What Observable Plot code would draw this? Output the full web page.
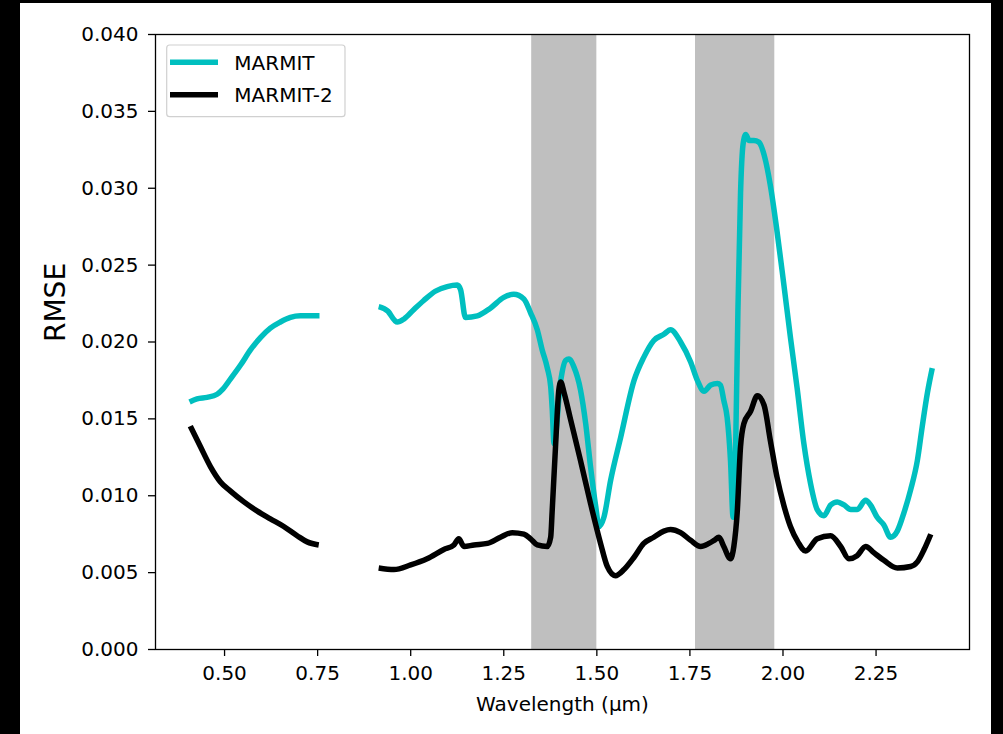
<!DOCTYPE html>
<html>
<head>
<meta charset="utf-8">
<script src="https://cdn.jsdelivr.net/npm/d3@7"></script>
<script src="https://cdn.jsdelivr.net/npm/@observablehq/plot@0.6"></script>
<style>
  html, body { margin: 0; padding: 0; background: #000; }
  #fig { position: absolute; left: 20px; top: 3px; width: 971px; height: 731px; background: #fff; overflow: hidden; }
</style>
</head>
<body>
<div id="fig"></div>
<script>
// RMSE spectra of the two model versions (null marks the masked gap)
const marmitWavelength = [0.406, 0.426, 0.453, 0.480, 0.494, 0.516, 0.543, 0.570, 0.597, 0.623, 0.650, 0.677, 0.704, 0.731, 0.755,
  0.83,
  0.914, 0.939, 0.957, 0.964, 0.982, 1.008, 1.035, 1.066, 1.098, 1.125, 1.134, 1.147, 1.179, 1.214, 1.250, 1.277, 1.304, 1.322,
  1.340, 1.353, 1.367, 1.376, 1.380, 1.385, 1.403, 1.416, 1.425, 1.438, 1.456, 1.470, 1.483, 1.497, 1.506, 1.519, 1.537, 1.564,
  1.600, 1.626, 1.653, 1.680, 1.698, 1.725, 1.752, 1.770, 1.788, 1.806, 1.824, 1.832, 1.841, 1.850, 1.859, 1.866, 1.873, 1.879,
  1.886, 1.893, 1.900, 1.909, 1.922, 1.935, 1.949, 1.966, 1.984, 2.002, 2.020, 2.038, 2.056, 2.074, 2.092, 2.110, 2.128, 2.146,
  2.164, 2.182, 2.199, 2.222, 2.235, 2.253, 2.271, 2.289, 2.307, 2.325, 2.343, 2.361, 2.374, 2.388, 2.401];
const marmitRmse = [0.0161, 0.0163, 0.0164, 0.0166, 0.0169, 0.0176, 0.0185, 0.0195, 0.0203, 0.0209, 0.0213, 0.0216, 0.0217, 0.0217, 0.0217,
  null,
  0.0223, 0.0220, 0.0214, 0.0213, 0.0215, 0.0221, 0.0227, 0.0233, 0.0236, 0.0237, 0.0234, 0.0216, 0.0217, 0.0222, 0.0229, 0.0231, 0.0228, 0.0219,
  0.0208, 0.0195, 0.0183, 0.0171, 0.0157, 0.0134, 0.0175, 0.0188, 0.0189, 0.0184, 0.0169, 0.0147, 0.0119, 0.0093, 0.0080, 0.0086, 0.0110, 0.0138,
  0.0175, 0.0190, 0.0201, 0.0205, 0.0208, 0.0200, 0.0187, 0.0175, 0.0168, 0.0172, 0.0173, 0.0172, 0.0162, 0.0151, 0.0123, 0.0086, 0.0134, 0.0221,
  0.0297, 0.0329, 0.0335, 0.0331, 0.0331, 0.0330, 0.0322, 0.0302, 0.0272, 0.0238, 0.0203, 0.0170, 0.0134, 0.0108, 0.0091, 0.0087, 0.0094, 0.0096,
  0.0094, 0.0091, 0.0091, 0.0097, 0.0094, 0.0086, 0.0081, 0.0073, 0.0077, 0.0089, 0.0104, 0.0123, 0.0145, 0.0167, 0.0183];

const marmit2Wavelength = [0.408, 0.435, 0.462, 0.489, 0.516, 0.552, 0.588, 0.623, 0.659, 0.695, 0.722, 0.753,
  0.83,
  0.914, 0.955, 1.000, 1.044, 1.089, 1.116, 1.129, 1.143, 1.170, 1.206, 1.241, 1.273, 1.304, 1.322, 1.340, 1.367, 1.376,
  1.380, 1.389, 1.398, 1.403, 1.412, 1.430, 1.456, 1.483, 1.510, 1.528, 1.550, 1.573, 1.600, 1.626, 1.653, 1.680, 1.698,
  1.725, 1.752, 1.779, 1.801, 1.815, 1.828, 1.841, 1.859, 1.868, 1.877, 1.886, 1.895, 1.913, 1.931, 1.949, 1.966, 1.984,
  2.002, 2.020, 2.040, 2.061, 2.092, 2.128, 2.155, 2.177, 2.199, 2.222, 2.244, 2.271, 2.307, 2.343, 2.361, 2.379, 2.397];
const marmit2Rmse = [0.01453, 0.0132, 0.0119, 0.0109, 0.0103, 0.0096, 0.0090, 0.0085, 0.0080, 0.0074, 0.0070, 0.0068,
  null,
  0.0053, 0.0052, 0.0055, 0.0059, 0.0065, 0.0068, 0.0072, 0.0067, 0.0068, 0.0069, 0.0073, 0.0076, 0.0075, 0.0072, 0.0068, 0.0067, 0.0073,
  0.0090, 0.0132, 0.0169, 0.0174, 0.0167, 0.0149, 0.0123, 0.0095, 0.0069, 0.0054, 0.0048, 0.0052, 0.0060, 0.0069, 0.0073, 0.0077, 0.0078,
  0.0076, 0.0071, 0.0067, 0.0069, 0.0071, 0.0073, 0.0067, 0.0059, 0.0067, 0.0089, 0.0132, 0.0147, 0.0155, 0.0165, 0.0159, 0.0136, 0.0112,
  0.0094, 0.0080, 0.0070, 0.0064, 0.0072, 0.0074, 0.0067, 0.0059, 0.0061, 0.0067, 0.0063, 0.0058, 0.0053, 0.0054, 0.0057, 0.0065, 0.0075];

// Water absorption bands shaded in grey
const bandStart = [1.325, 1.765];
const bandEnd = [1.500, 1.978];

const xTicks = [0.50, 0.75, 1.00, 1.25, 1.50, 1.75, 2.00, 2.25];
const yTicks = [0.000, 0.005, 0.010, 0.015, 0.020, 0.025, 0.030, 0.035, 0.040];

const seriesNames = ["MARMIT", "MARMIT-2"];
const seriesColors = ["#00bfbf", "#000000"];

const marmitRows = marmitWavelength.map((w, i) => ({wavelength: w, rmse: marmitRmse[i]}));
const marmit2Rows = marmit2Wavelength.map((w, i) => ({wavelength: w, rmse: marmit2Rmse[i]}));
const bands = bandStart.map((s, i) => ({start: s, end: bandEnd[i]}));

const font = "DejaVu Sans";
const lineStyle = {x: "wavelength", y: "rmse", strokeWidth: 5.5, strokeLinejoin: "round", strokeLinecap: "butt", curve: "monotone-x"};

const svg = Plot.plot({
  width: 971,
  height: 731,
  marginLeft: 135,
  marginRight: 22,
  marginTop: 31,
  marginBottom: 85,
  style: {fontFamily: font, fontSize: "20px", color: "#000", background: "#fff"},
  x: {domain: [0.3145, 2.501]},
  y: {domain: [0, 0.04]},
  marks: [
    Plot.rect(bands, {x1: "start", x2: "end", fill: "#bfbfbf"}),
    Plot.line(marmitRows, {...lineStyle, stroke: seriesColors[0]}),
    Plot.line(marmit2Rows, {...lineStyle, stroke: seriesColors[1]}),
    Plot.frame({stroke: "#000", strokeWidth: 1.3}),
    Plot.axisX(xTicks, {tickSize: 7, tickPadding: 9, strokeWidth: 1.3, tickFormat: d => d.toFixed(2), label: null, fontSize: 20}),
    Plot.axisY(yTicks, {tickSize: 7, tickPadding: 10, strokeWidth: 1.3, tickFormat: d => d.toFixed(3), label: null, fontSize: 20}),
    Plot.text(["Wavelength (µm)"], {text: d => d, frameAnchor: "bottom", dy: 47, lineAnchor: "top", fontSize: 20}),
    Plot.text(["RMSE"], {text: d => d, frameAnchor: "left", dx: -99, rotate: -90, lineAnchor: "middle", fontSize: 28})
  ]
});

// Legend box in the upper-left corner of the axes
const legend = d3.select(svg).append("g");
legend.append("rect")
  .attr("x", 146.7).attr("y", 42).attr("width", 178.3).attr("height", 71.7)
  .attr("rx", 3).attr("fill", "#fff").attr("fill-opacity", 0.8)
  .attr("stroke", "#d0d0d0").attr("stroke-width", 1.2);
const entry = legend.selectAll("g.entry").data(seriesNames).join("g")
  .attr("class", "entry")
  .attr("transform", (d, i) => `translate(0, ${59.3 + i * 32.5})`);
entry.append("line")
  .attr("x1", 150).attr("x2", 198).attr("y1", 0).attr("y2", 0)
  .attr("stroke", (d, i) => seriesColors[i]).attr("stroke-width", 5.5);
entry.append("text")
  .attr("x", 214.3).attr("y", 7.3)
  .attr("text-anchor", "start")
  .attr("font-family", font).attr("font-size", 20).attr("fill", "#000")
  .text(d => d);

document.getElementById("fig").appendChild(svg);
</script>
</body>
</html>
